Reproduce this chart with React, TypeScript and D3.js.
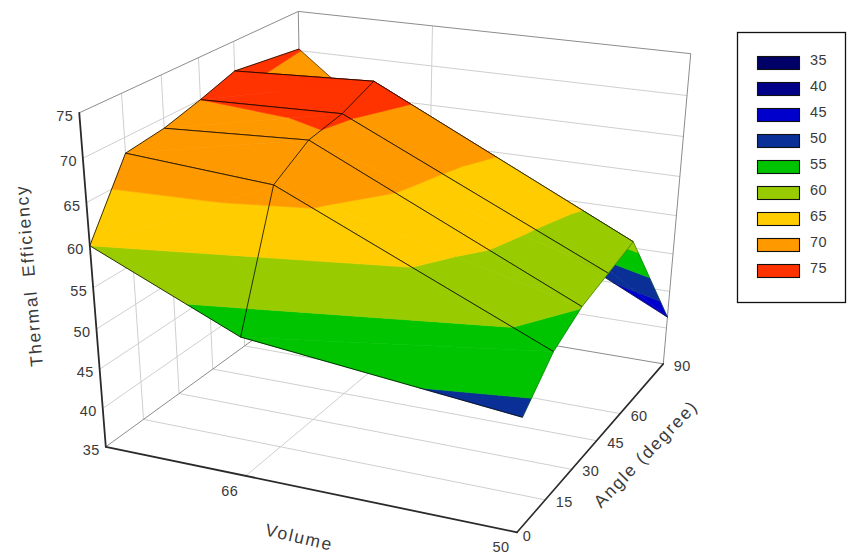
import React from "react";
import * as d3 from "d3";

const volumes = [75, 66, 50];
const volumeTicks = [66, 50];
const angles = [0, 15, 30, 45, 60, 90];
const effTicks = [35, 40, 45, 50, 55, 60, 65, 70, 75];
const effAtV75 = [60, 68.2, 68.8, 70, 71.4, 70.2];
const effAtV66 = [52.2, 67, 69.7, 70.5, 72.2, 57];
const effAtV50 = [48.8, 53, 55.1, 56.1, 57.1, 41.5];
const surface = [effAtV75, effAtV66, effAtV50];
const bandColors = ["#000066", "#000088", "#0000cc", "#0a2f96", "#00c400", "#99cc00", "#ffcc00", "#ff9900", "#ff3300"];

const W = 847, H = 555;
const xS = d3.scaleLinear().domain([75, 50]).range([0, 1]);
const yS = d3.scaleLinear().domain([0, 90]).range([0, 1]);
const zS = d3.scaleLinear().domain([35, 75]).range([0, 1]);

// camera calibration: cube corner -> screen position
const calib = [[0,0,0,107,446],[1,0,0,517,533],[1,1,0,664,363],[0,1,0,302,304],[0,0,1,78,113],[0,1,1,300,11],[1,1,1,690,54]];
function solve(A: number[][], b: number[]) {
  const n = b.length; const M = A.map((r, i) => [...r, b[i]]);
  for (let i = 0; i < n; i++) {
    let p = i; for (let k = i; k < n; k++) if (Math.abs(M[k][i]) > Math.abs(M[p][i])) p = k;
    [M[i], M[p]] = [M[p], M[i]];
    for (let k = 0; k < n; k++) if (k !== i) { const f = M[k][i] / M[i][i]; for (let j = i; j <= n; j++) M[k][j] -= f * M[i][j]; }
  }
  return M.map((r, i) => r[n] / r[i]);
}
function fit() {
  const R: number[][] = [], B: number[] = [];
  for (const [X, Y, Z, u, v] of calib) {
    R.push([X,Y,Z,1,0,0,0,0,-u*X,-u*Y,-u*Z]); B.push(u);
    R.push([0,0,0,0,X,Y,Z,1,-v*X,-v*Y,-v*Z]); B.push(v);
  }
  const N = d3.range(11).map(i => d3.range(11).map(j => d3.sum(R, r => r[i] * r[j])));
  const C = d3.range(11).map(i => d3.sum(R, (r, k) => r[i] * B[k]));
  return solve(N, C);
}
const p = fit();
type P3 = [number, number, number];
const proj = ([x, y, z]: P3): [number, number] => {
  const w = p[8]*x + p[9]*y + p[10]*z + 1;
  return [(p[0]*x + p[1]*y + p[2]*z + p[3]) / w, (p[4]*x + p[5]*y + p[6]*z + p[7]) / w];
};
const data3 = (v: number, a: number, e: number): P3 => [xS(v), yS(a), zS(e)];
const line = d3.line<[number, number]>();
const seg = (a: P3, b: P3) => line([proj(a), proj(b)]) as string;

type DP = { v: number; a: number; e: number };
function clip(poly: DP[], level: number, keepAbove: boolean) {
  const out: DP[] = [];
  const inside = (q: DP) => keepAbove ? q.e >= level : q.e <= level;
  poly.forEach((c, i) => {
    const n = poly[(i + 1) % poly.length];
    if (inside(c)) out.push(c);
    if (inside(c) !== inside(n)) {
      const t = (level - c.e) / (n.e - c.e);
      out.push({ v: c.v + t * (n.v - c.v), a: c.a + t * (n.a - c.a), e: level });
    }
  });
  return out;
}
function bandPaths(tri: DP[]) {
  const res: { d: string; color: string }[] = [];
  effTicks.forEach((lvl, k) => {
    let poly = clip(tri, lvl, false);
    if (k > 0) poly = clip(poly, effTicks[k - 1], true);
    if (poly.length >= 3) {
      res.push({ d: (line(poly.map(q => proj(data3(q.v, q.a, q.e)))) as string) + "Z", color: bandColors[k] });
    }
  });
  return res;
}
const pt = (j: number, i: number): DP => ({ v: volumes[j], a: angles[i], e: surface[j][i] });
const seg3 = (a: DP, b: DP) => seg(data3(a.v, a.a, a.e), data3(b.v, b.a, b.e));

const legendRows = effTicks.map((t, i) => ({ t, color: bandColors[i] }));
const FONT = "'Liberation Sans', Arial, sans-serif";
const GRID = "#cfcfcf", EDGE = "#8c8c8c", AXIS = "#2a2a2a", TXT = "#3a3a3a";

export default function App() {
  const rows: React.ReactNode[] = [];
  for (let i = angles.length - 2; i >= 0; i--) {
    const fills: React.ReactNode[] = [];
    const meshes: React.ReactNode[] = [];
    for (let j = 0; j < volumes.length - 1; j++) {
      const a = pt(j, i), b = pt(j + 1, i), c = pt(j + 1, i + 1), dd = pt(j, i + 1);
      [[a, c, dd], [a, b, c]].forEach((t, n) => bandPaths(t).forEach((s, m) => {
        fills.push(<path key={`${j}-${n}-${m}`} d={s.d} fill={s.color} stroke={s.color} strokeWidth={0.6} strokeLinejoin="round" />);
      }));
      meshes.push(
        <g key={j} stroke="#000" strokeWidth={0.9}>
          <path d={seg3(a, b)} strokeOpacity={0.85} />
          <path d={seg3(dd, c)} strokeOpacity={i === 4 ? 0.6 : 0.85} />
          {j === 0 && <path d={seg3(a, dd)} strokeOpacity={0.85} />}
          <path d={seg3(b, c)} stroke={j === 0 ? "#000" : "#005a00"} strokeOpacity={j === 0 ? 0.85 : 0.55} />
        </g>
      );
    }
    rows.push(<g key={i}>{fills}{meshes}</g>);
  }
  const vMid = volumeTicks[0];
  return (
    <svg width={W} height={H} style={{ position: "absolute", left: 0, top: 0, background: "#fff" }} fontFamily={FONT}>
      <g fill="none">
        {effTicks.slice(1, -1).map(e => (
          <g key={e}>
            <path d={seg(data3(75, 0, e), data3(75, 90, e))} stroke={GRID} />
            <path d={seg(data3(75, 90, e), data3(50, 90, e))} stroke={GRID} />
          </g>
        ))}
        {angles.slice(1, -1).map(a => (
          <g key={a}>
            <path d={seg(data3(75, a, 35), data3(75, a, 75))} stroke={GRID} />
            <path d={seg(data3(75, a, 35), data3(50, a, 35))} stroke={GRID} />
          </g>
        ))}
        <path d={seg(data3(vMid, 0, 35), data3(vMid, 90, 35))} stroke={GRID} />
        <path d={seg(data3(vMid, 90, 35), data3(vMid, 90, 75))} stroke={GRID} />
        <path d={seg(data3(75, 90, 35), data3(75, 90, 75))} stroke={EDGE} />
        <path d={seg(data3(75, 0, 75), data3(75, 90, 75))} stroke={EDGE} />
        <path d={seg(data3(75, 90, 75), data3(50, 90, 75))} stroke={EDGE} />
        <path d={seg(data3(50, 90, 35), data3(50, 90, 75))} stroke={EDGE} />
        <path d={seg(data3(75, 0, 35), data3(75, 90, 35))} stroke={EDGE} />
        <path d={seg(data3(75, 90, 35), data3(50, 90, 35))} stroke={EDGE} />
      </g>
      <g fill="none">{rows}</g>
      <g fill="none" stroke={AXIS} strokeLinecap="round">
        <path d={seg(data3(75, 0, 35), data3(75, 0, 75))} strokeWidth={1.8} />
        <path d={seg(data3(75, 0, 35), data3(50, 0, 35))} strokeWidth={1.8} />
        <path d={seg(data3(50, 0, 35), data3(50, 90, 35))} strokeWidth={1.6} />
      </g>
      <g fontSize={14.5} fill={TXT} letterSpacing={0.4}>
        {effTicks.map(e => {
          const [x, y] = proj(data3(75, 0, e));
          return <text key={e} x={x - 6} y={y + 8} textAnchor="end">{e}</text>;
        })}
        {angles.map((a, i) => {
          const [x, y] = proj(data3(50, a, 35));
          return <text key={a} x={x + (i === 0 ? 10 : 19)} y={y + (i === 0 ? 9 : 7)} textAnchor="middle">{a}</text>;
        })}
        {volumeTicks.map(v => {
          const [x, y] = proj(data3(v, 0, 35));
          return <text key={v} x={x - 16} y={y + 20} textAnchor="middle">{v}</text>;
        })}
      </g>
      <g fontSize={17.5} fill={TXT} textAnchor="middle" letterSpacing={1.8}>
        <text transform="translate(35,275) rotate(-95)" xmlSpace="preserve">{"Thermal  Efficiency"}</text>
        <text transform="translate(298,543) rotate(13)">Volume</text>
        <text transform="translate(650,458) rotate(-46)">Angle (degree)</text>
      </g>
      <rect x={737.5} y={32.5} width={108} height={270} fill="#fff" stroke="#111" strokeWidth={1.3} />
      <g>
        {legendRows.map((r, i) => {
          const cy = 63 + i * 26;
          return (
            <g key={r.t}>
              <rect x={757.5} y={cy - 6.5} width={42} height={13} fill={r.color} stroke="#111" strokeWidth={1.1} />
              <text x={810} y={cy + 1.5} fontSize={14.5} letterSpacing={0.4} fill={TXT}>{r.t}</text>
            </g>
          );
        })}
      </g>
    </svg>
  );
}
